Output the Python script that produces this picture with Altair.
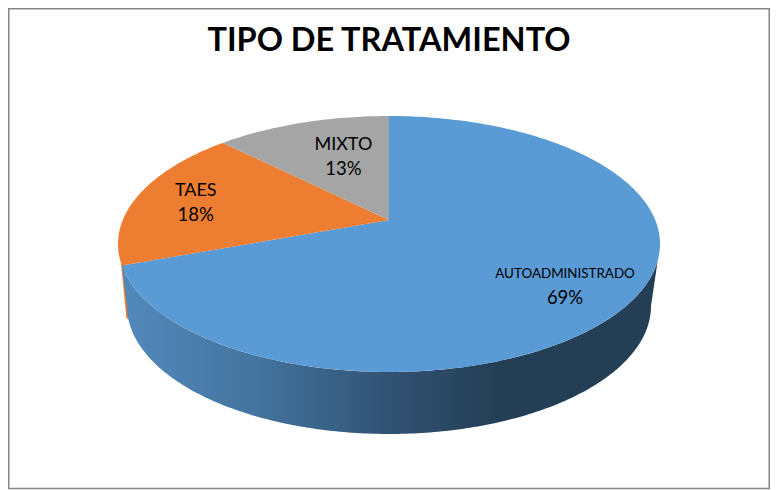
import math
import altair as alt

# ---- values
categories = ["AUTOADMINISTRADO", "TAES", "MIXTO"]
shares = [69.4, 18.1, 12.5]
share_labels = ["69%", "18%", "13%"]
slice_colors = ["#5B9BD5", "#ED7D31", "#A5A5A5"]
name_sizes = [13.4, 18, 18]
title_text = "TIPO DE TRATAMIENTO"

# ---- layout of the tilted pie (page pixels minus the 8px margin)
W, H = 762, 482
CX, CY = 381, 212          # pie centre as seen in perspective
A, B, K = 266.2, 123.5, 0.1875   # perspective of the top disc
BOT_Y, BOT_RX, BOT_RY = 298, 262, 128  # lower rim
label_r = 0.75
label_nudge = [(-2, 8), (-4, 2), (22, 13)]
line_gap = 12


def disc(frac, r=1.0):
    t = 2 * math.pi * frac
    u, v = r * math.sin(t), r * math.cos(t)
    w = 1 + K * v
    return [CX + A * u / w, CY - B * v / w]


def feature(name, ring):
    ring = ring + [ring[0]]
    return {"type": "Feature", "properties": {"name": name},
            "geometry": {"type": "Polygon", "coordinates": [ring]}}


# slices of the top disc, from the shares
total = sum(shares)
features, labels = [], []
start = 0.0
for i, name in enumerate(categories):
    end = start + shares[i] / total
    n = max(2, int((end - start) * 360))
    ring = [[CX, CY]] + [disc(start + (end - start) * j / n) for j in range(n + 1)]
    features.append(feature(name, ring))
    mx, my = disc((start + end) / 2, label_r)
    mx += label_nudge[i][0]
    my += label_nudge[i][1]
    labels.append({"txt": name, "lon": mx, "lat": my - line_gap, "size": name_sizes[i]})
    labels.append({"txt": share_labels[i], "lon": mx, "lat": my + line_gap, "size": 18.5})
    start = end

blue_end = shares[0] / total

# front wall
front = [disc(0.30 + (blue_end - 0.30) * j / 200) for j in range(201)]
for j in range(201):
    t = math.pi * j / 200
    front.append([CX - BOT_RX * math.cos(t), BOT_Y + BOT_RY * math.sin(t)])
wall = feature("wall", front)

# thin orange wall peeking out on the left
p0 = disc(blue_end)
sliver = feature("sliver", [[p0[0] - 0.8, p0[1] - 2], [CX - BOT_RX - 0.6, BOT_Y + 12],
                            [CX - BOT_RX + 2, BOT_Y + 14], [p0[0] + 2, p0[1]]])

frame = feature("frame", [[0.75, 0.75], [W - 0.75, 0.75], [W - 0.75, 480.5], [0.75, 480.5]])

proj = alt.Projection(type="identity", scale=1, translate=[0, 0])


def shape(feats, **kw):
    return alt.Chart(alt.Data(values=feats)).mark_geoshape(**kw).project(**proj.to_dict())


frame_l = shape([frame], filled=False, stroke="#868686", strokeWidth=1.5)
sliver_l = shape([sliver], fill=slice_colors[1], strokeWidth=0)
wall_l = shape([wall], strokeWidth=0, fill=alt.Gradient(
    gradient="linear", x1=0, x2=1, y1=0, y2=0,
    stops=[
        alt.GradientStop(offset=0.0, color="#5289BC"),
        alt.GradientStop(offset=0.25, color="#44749F"),
        alt.GradientStop(offset=0.5, color="#315273"),
        alt.GradientStop(offset=0.7, color="#243F55"),
        alt.GradientStop(offset=1.0, color="#243F55"),
    ]))
top_l = shape(features, strokeWidth=0).encode(
    color=alt.Color("properties.name:N", legend=None,
                    scale=alt.Scale(domain=categories, range=slice_colors)))

text_l = alt.Chart(alt.Data(values=labels)).mark_text(
    font="Lato", color="#000000", align="center", baseline="middle"
).encode(
    longitude="lon:Q", latitude="lat:Q", text="txt:N",
    size=alt.Size("size:Q", scale=None, legend=None),
).project(**proj.to_dict())

chart = alt.layer(
    frame_l, sliver_l, wall_l, top_l, text_l
).properties(
    width=W, height=H, padding=0, autosize="none", background="white",
    title=alt.TitleParams(title_text, font="Lato", fontSize=32.5, fontWeight="bold",
                          color="#000000", anchor="middle", frame="group",
                          offset=-75, baseline="alphabetic"),
).configure_view(stroke=None)

chart.save("out.html", embed_options={"renderer": "svg", "actions": False})
